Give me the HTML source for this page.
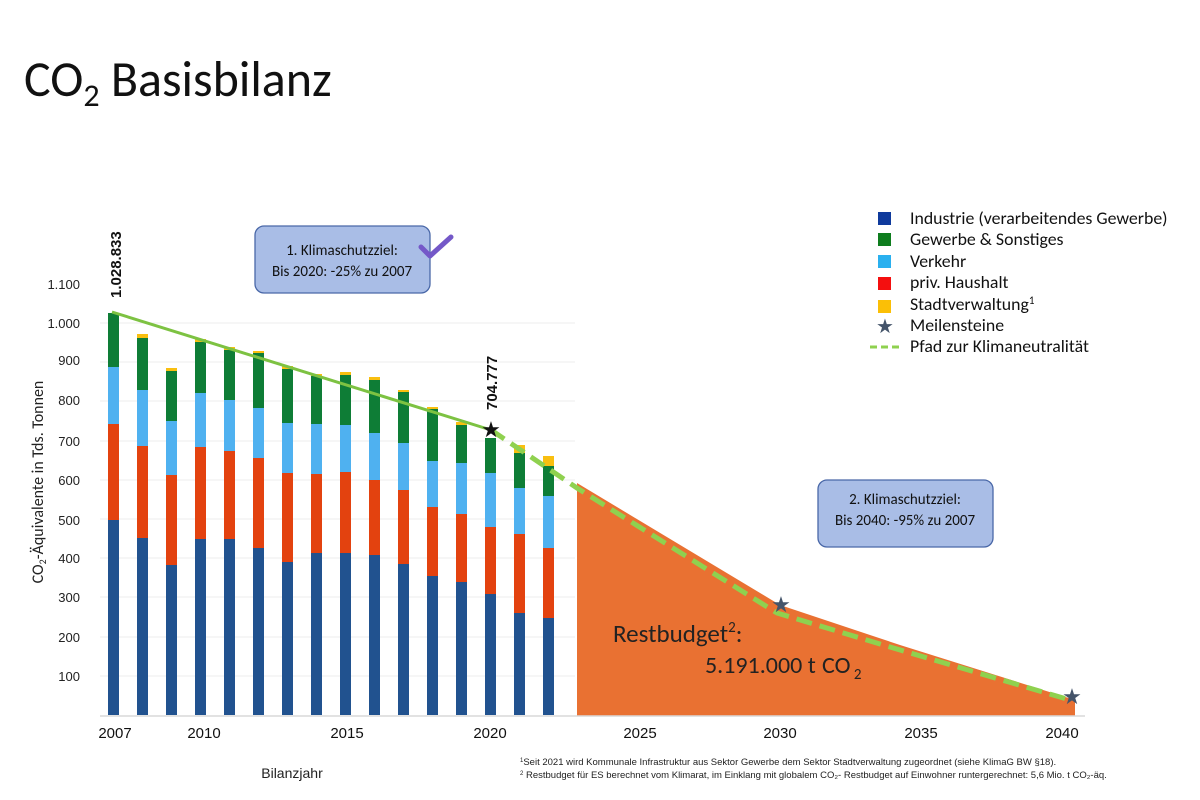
<!DOCTYPE html>
<html><head><meta charset="utf-8"><style>
body{margin:0;background:#fff;}
svg{display:block;font-family:"Liberation Sans",sans-serif;}
.c{font-family:"Carlito","Liberation Sans",sans-serif;}
</style></head><body>
<svg width="1200" height="800" viewBox="0 0 1200 800" xmlns="http://www.w3.org/2000/svg">
<text x="24" y="96" font-size="50" fill="#111" class="c">CO<tspan font-size="32" dy="10">2</tspan><tspan dy="-10"> Basisbilanz</tspan></text>
<g stroke="#ececec" stroke-width="1">
<line x1="100" y1="676" x2="575" y2="676"/><line x1="100" y1="637" x2="575" y2="637"/><line x1="100" y1="597" x2="575" y2="597"/><line x1="100" y1="558" x2="575" y2="558"/><line x1="100" y1="519" x2="575" y2="519"/><line x1="100" y1="480" x2="575" y2="480"/><line x1="100" y1="441" x2="575" y2="441"/><line x1="100" y1="401" x2="575" y2="401"/><line x1="100" y1="362" x2="575" y2="362"/><line x1="100" y1="323" x2="575" y2="323"/>
</g>
<g font-size="13" fill="#222" text-anchor="end">
<text x="80" y="289">1.100</text><text x="80" y="328">1.000</text><text x="80" y="365">900</text><text x="80" y="405">800</text><text x="80" y="446">700</text><text x="80" y="485">600</text><text x="80" y="525">500</text><text x="80" y="563">400</text><text x="80" y="602">300</text><text x="80" y="642">200</text><text x="80" y="681">100</text>
</g>
<text transform="translate(43,482) rotate(-90)" font-size="16" fill="#222" text-anchor="middle" class="c">CO<tspan font-size="10" dy="3">2</tspan><tspan dy="-3">-Äquivalente in Tds. Tonnen</tspan></text>
<polygon points="577,483 780,605 900,645 1075,700 1075,716 577,716" fill="#e97132"/>
<g>
<rect x="108" y="313" width="11" height="54" fill="#0e7d36"/><rect x="108" y="367" width="11" height="57" fill="#4fb1f0"/><rect x="108" y="424" width="11" height="96" fill="#e3420f"/><rect x="108" y="520" width="11" height="195" fill="#21528f"/>
<rect x="137" y="334" width="11" height="4" fill="#f9bf10"/><rect x="137" y="338" width="11" height="52" fill="#0e7d36"/><rect x="137" y="390" width="11" height="56" fill="#4fb1f0"/><rect x="137" y="446" width="11" height="92" fill="#e3420f"/><rect x="137" y="538" width="11" height="177" fill="#21528f"/>
<rect x="166" y="368" width="11" height="3" fill="#f9bf10"/><rect x="166" y="371" width="11" height="50" fill="#0e7d36"/><rect x="166" y="421" width="11" height="54" fill="#4fb1f0"/><rect x="166" y="475" width="11" height="90" fill="#e3420f"/><rect x="166" y="565" width="11" height="150" fill="#21528f"/>
<rect x="195" y="339" width="11" height="3" fill="#f9bf10"/><rect x="195" y="342" width="11" height="51" fill="#0e7d36"/><rect x="195" y="393" width="11" height="54" fill="#4fb1f0"/><rect x="195" y="447" width="11" height="92" fill="#e3420f"/><rect x="195" y="539" width="11" height="176" fill="#21528f"/>
<rect x="224" y="347" width="11" height="3" fill="#f9bf10"/><rect x="224" y="350" width="11" height="50" fill="#0e7d36"/><rect x="224" y="400" width="11" height="51" fill="#4fb1f0"/><rect x="224" y="451" width="11" height="88" fill="#e3420f"/><rect x="224" y="539" width="11" height="176" fill="#21528f"/>
<rect x="253" y="351" width="11" height="2" fill="#f9bf10"/><rect x="253" y="353" width="11" height="55" fill="#0e7d36"/><rect x="253" y="408" width="11" height="50" fill="#4fb1f0"/><rect x="253" y="458" width="11" height="90" fill="#e3420f"/><rect x="253" y="548" width="11" height="167" fill="#21528f"/>
<rect x="282" y="366" width="11" height="3" fill="#f9bf10"/><rect x="282" y="369" width="11" height="54" fill="#0e7d36"/><rect x="282" y="423" width="11" height="50" fill="#4fb1f0"/><rect x="282" y="473" width="11" height="89" fill="#e3420f"/><rect x="282" y="562" width="11" height="153" fill="#21528f"/>
<rect x="311" y="374" width="11" height="2" fill="#f9bf10"/><rect x="311" y="376" width="11" height="48" fill="#0e7d36"/><rect x="311" y="424" width="11" height="50" fill="#4fb1f0"/><rect x="311" y="474" width="11" height="79" fill="#e3420f"/><rect x="311" y="553" width="11" height="162" fill="#21528f"/>
<rect x="340" y="372" width="11" height="3" fill="#f9bf10"/><rect x="340" y="375" width="11" height="50" fill="#0e7d36"/><rect x="340" y="425" width="11" height="47" fill="#4fb1f0"/><rect x="340" y="472" width="11" height="81" fill="#e3420f"/><rect x="340" y="553" width="11" height="162" fill="#21528f"/>
<rect x="369" y="377" width="11" height="3" fill="#f9bf10"/><rect x="369" y="380" width="11" height="53" fill="#0e7d36"/><rect x="369" y="433" width="11" height="47" fill="#4fb1f0"/><rect x="369" y="480" width="11" height="75" fill="#e3420f"/><rect x="369" y="555" width="11" height="160" fill="#21528f"/>
<rect x="398" y="390" width="11" height="2" fill="#f9bf10"/><rect x="398" y="392" width="11" height="51" fill="#0e7d36"/><rect x="398" y="443" width="11" height="47" fill="#4fb1f0"/><rect x="398" y="490" width="11" height="74" fill="#e3420f"/><rect x="398" y="564" width="11" height="151" fill="#21528f"/>
<rect x="427" y="407" width="11" height="2" fill="#f9bf10"/><rect x="427" y="409" width="11" height="52" fill="#0e7d36"/><rect x="427" y="461" width="11" height="46" fill="#4fb1f0"/><rect x="427" y="507" width="11" height="69" fill="#e3420f"/><rect x="427" y="576" width="11" height="139" fill="#21528f"/>
<rect x="456" y="422" width="11" height="3" fill="#f9bf10"/><rect x="456" y="425" width="11" height="38" fill="#0e7d36"/><rect x="456" y="463" width="11" height="51" fill="#4fb1f0"/><rect x="456" y="514" width="11" height="68" fill="#e3420f"/><rect x="456" y="582" width="11" height="133" fill="#21528f"/>
<rect x="485" y="438" width="11" height="35" fill="#0e7d36"/><rect x="485" y="473" width="11" height="54" fill="#4fb1f0"/><rect x="485" y="527" width="11" height="67" fill="#e3420f"/><rect x="485" y="594" width="11" height="121" fill="#21528f"/>
<rect x="514" y="445" width="11" height="8" fill="#f9bf10"/><rect x="514" y="453" width="11" height="35" fill="#0e7d36"/><rect x="514" y="488" width="11" height="46" fill="#4fb1f0"/><rect x="514" y="534" width="11" height="79" fill="#e3420f"/><rect x="514" y="613" width="11" height="102" fill="#21528f"/>
<rect x="543" y="456" width="11" height="10" fill="#f9bf10"/><rect x="543" y="466" width="11" height="30" fill="#0e7d36"/><rect x="543" y="496" width="11" height="52" fill="#4fb1f0"/><rect x="543" y="548" width="11" height="70" fill="#e3420f"/><rect x="543" y="618" width="11" height="97" fill="#21528f"/>
</g>
<line x1="100" y1="716" x2="1085" y2="716" stroke="#d9d9d9" stroke-width="1.5"/>
<polyline points="112,312 491,430" fill="none" stroke="#7dc242" stroke-width="3"/>
<polyline points="491,430 577,488 777,613 890,647 1070,700" fill="none" stroke="#8fd14f" stroke-width="5" stroke-dasharray="16,8"/>
<text x="491" y="437" font-size="22" text-anchor="middle" fill="#111">★</text>
<text x="781" y="612" font-size="22" text-anchor="middle" fill="#44546a">★</text>
<text x="1072" y="704" font-size="22" text-anchor="middle" fill="#44546a">★</text>
<text transform="translate(121,298) rotate(-90)" font-size="15" font-weight="bold" fill="#111">1.028.833</text>
<text transform="translate(497,410) rotate(-90)" font-size="15" font-weight="bold" fill="#111">704.777</text>
<g font-size="15" fill="#111" text-anchor="middle">
<text x="115" y="738">2007</text><text x="204" y="738">2010</text><text x="347" y="738">2015</text><text x="490" y="738">2020</text><text x="640" y="738">2025</text><text x="780" y="738">2030</text><text x="921" y="738">2035</text><text x="1062" y="738">2040</text>
</g>
<text x="292" y="778" font-size="14" fill="#222" text-anchor="middle">Bilanzjahr</text>
<text x="613" y="642" font-size="25" fill="#222" class="c">Restbudget<tspan font-size="15" dy="-10">2</tspan><tspan dy="10">:</tspan></text>
<text x="705" y="673" font-size="24" fill="#222" class="c">5.191.000 t</text>
<text x="822" y="673" font-size="24" fill="#222" class="c">CO<tspan font-size="15" dy="6"> 2</tspan></text>
<rect x="255" y="226" width="175" height="67" rx="9" fill="#a9bde6" stroke="#4a68a8" stroke-width="1.3"/>
<text x="342" y="255" font-size="15" text-anchor="middle" fill="#111" class="c">1. Klimaschutzziel:</text>
<text x="342" y="276" font-size="15" text-anchor="middle" fill="#111" class="c">Bis 2020: -25% zu 2007</text>
<polyline points="421,247 430,256 451,237" fill="none" stroke="#7458c8" stroke-width="5" stroke-linecap="round" stroke-linejoin="round"/>
<rect x="818" y="480" width="175" height="67" rx="9" fill="#a9bde6" stroke="#4a68a8" stroke-width="1.3"/>
<text x="905" y="504" font-size="15" text-anchor="middle" fill="#111" class="c">2. Klimaschutzziel:</text>
<text x="905" y="525" font-size="15" text-anchor="middle" fill="#111" class="c">Bis 2040: -95% zu 2007</text>
<g font-size="17.8" fill="#111" class="c">
<rect x="878" y="212" width="13" height="13" fill="#0f3a9c"/><text x="910" y="224">Industrie (verarbeitendes Gewerbe)</text>
<rect x="878" y="233" width="13" height="13" fill="#0e7d1e"/><text x="910" y="245">Gewerbe &amp; Sonstiges</text>
<rect x="878" y="255" width="13" height="13" fill="#2ab0ef"/><text x="910" y="267">Verkehr</text>
<rect x="878" y="277" width="13" height="13" fill="#f40f0f"/><text x="910" y="288">priv. Haushalt</text>
<rect x="878" y="300" width="13" height="13" fill="#fbbf06"/><text x="910" y="310">Stadtverwaltung<tspan font-size="11" dy="-6">1</tspan></text>
<text x="885" y="333" font-size="20" text-anchor="middle" fill="#44546a">★</text><text x="910" y="331">Meilensteine</text>
<line x1="870" y1="347" x2="900" y2="347" stroke="#8fd14f" stroke-width="3" stroke-dasharray="7,4"/><text x="910" y="352">Pfad zur Klimaneutralität</text>
</g>
<g font-size="9.5" fill="#222">
<text x="520" y="765"><tspan font-size="6" dy="-3">1</tspan><tspan dy="3">Seit  2021 wird Kommunale Infrastruktur aus Sektor Gewerbe dem Sektor Stadtverwaltung zugeordnet (siehe KlimaG BW §18).</tspan></text>
<text x="520" y="778"><tspan font-size="6" dy="-3">2</tspan><tspan dy="3"> Restbudget für ES berechnet vom Klimarat, im Einklang mit globalem CO₂- Restbudget auf Einwohner runtergerechnet: 5,6 Mio. t CO₂-äq.</tspan></text>
</g>
</svg>
</body></html>
